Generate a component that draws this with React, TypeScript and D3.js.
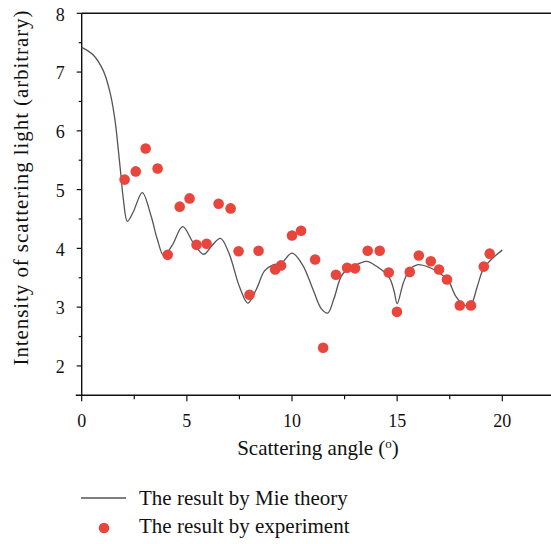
import React from "react";
import * as d3 from "d3";

const W = 551;
const H = 544;

const xTicks = [0, 5, 10, 15, 20];
const xMinorTicks = [2.5, 7.5, 12.5, 17.5];
const yTicks = [2, 3, 4, 5, 6, 7, 8];
const yMinorTicks = [2.5, 3.5, 4.5, 5.5, 6.5, 7.5];

// Experiment points
const expX = [2.04, 2.57, 3.04, 3.61, 4.09, 4.66, 5.13, 5.46, 5.94, 6.51, 7.08, 7.46, 7.98, 8.41, 9.2, 9.48, 10.0, 10.43, 11.1, 11.48, 12.09, 12.62, 13.0, 13.6, 14.17, 14.6, 14.99, 15.6, 16.03, 16.6, 16.99, 17.37, 17.98, 18.51, 19.12, 19.4];
const expY = [5.17, 5.31, 5.70, 5.36, 3.89, 4.71, 4.85, 4.06, 4.08, 4.76, 4.68, 3.95, 3.21, 3.96, 3.64, 3.71, 4.22, 4.30, 3.81, 2.31, 3.55, 3.67, 3.66, 3.96, 3.96, 3.59, 2.92, 3.60, 3.88, 3.78, 3.64, 3.47, 3.03, 3.03, 3.69, 3.91];

// Mie theory curve
const mieX = [0, 0.55, 1.03, 1.35, 1.58, 1.74, 1.87, 1.98, 2.17, 2.45, 2.88, 3.3, 3.6, 3.9, 4.3, 4.8, 5.3, 5.8, 6.2, 6.6, 7.0, 7.5, 7.9, 8.3, 8.7, 9.1, 9.5, 10.0, 10.5, 11.0, 11.4, 11.7, 12.0, 12.4, 13.0, 13.55, 14.0, 14.6, 14.85, 15.0, 15.3, 15.6, 15.95, 16.5, 17.0, 17.4, 17.8, 18.2, 18.5, 18.8, 19.1, 19.5, 20.0];
const mieY = [7.42, 7.29, 7.02, 6.65, 6.19, 5.68, 5.23, 4.84, 4.46, 4.62, 4.95, 4.55, 4.15, 3.88, 4.05, 4.37, 4.1, 3.9, 4.05, 4.17, 3.92, 3.35, 3.07, 3.3, 3.62, 3.72, 3.75, 3.92, 3.72, 3.3, 2.97, 2.9, 3.15, 3.56, 3.71, 3.78, 3.7, 3.52, 3.28, 3.06, 3.42, 3.64, 3.72, 3.68, 3.58, 3.47, 3.18, 3.03, 3.04, 3.34, 3.65, 3.82, 3.97];

const FONT = "'Liberation Serif', 'Times New Roman', serif";

export default function App() {
  const x0 = 81.7;
  const ppu = 21.03;
  const x = d3.scaleLinear().domain([0, 22.5]).range([x0, x0 + 22.5 * ppu]);
  const y = d3.scaleLinear().domain([1.5, 8]).range([395.3, 13.3]);

  const line = d3
    .line<number>()
    .x((_, i) => x(mieX[i]))
    .y((_, i) => y(mieY[i]))
    .curve(d3.curveCatmullRom.alpha(0.5));

  const pathD = line(mieX) || "";
  const red = "#e8453c";
  const axisColor = "#111";

  return (
    <svg
      width={W}
      height={H}
      style={{ position: "absolute", left: 0, top: 0, background: "#fff" }}
      fontFamily={FONT}
    >
      {/* frame: top and left, bottom */}
      <line x1={x(0)} x2={W} y1={y(8)} y2={y(8)} stroke={axisColor} strokeWidth={1.4} />
      <line x1={x(0)} x2={x(0)} y1={y(8)} y2={y(1.5)} stroke={axisColor} strokeWidth={1.4} />
      <line x1={x(0) - 6} x2={W} y1={y(1.5)} y2={y(1.5)} stroke={axisColor} strokeWidth={1.4} />

      {/* y ticks */}
      {yTicks.map((t) => (
        <g key={"yt" + t}>
          <line x1={x(0) - 5} x2={x(0)} y1={y(t)} y2={y(t)} stroke={axisColor} strokeWidth={1.2} />
          <text x={x(0) - 17} y={y(t) + 7.2} textAnchor="end" fontSize={18} fill="#111">
            {t}
          </text>
        </g>
      ))}
      {yMinorTicks.map((t) => (
        <line key={"ym" + t} x1={x(0) - 3} x2={x(0)} y1={y(t)} y2={y(t)} stroke={axisColor} strokeWidth={1.2} />
      ))}

      {/* x ticks */}
      {xTicks.map((t) => (
        <g key={"xt" + t}>
          <line x1={x(t)} x2={x(t)} y1={y(1.5)} y2={y(1.5) + 6} stroke={axisColor} strokeWidth={1.2} />
          <text x={x(t)} y={y(1.5) + 31.5} textAnchor="middle" fontSize={18} fill="#111">
            {t}
          </text>
        </g>
      ))}
      {xMinorTicks.map((t) => (
        <line key={"xm" + t} x1={x(t)} x2={x(t)} y1={y(1.5)} y2={y(1.5) + 4} stroke={axisColor} strokeWidth={1.2} />
      ))}

      {/* Mie curve */}
      <path d={pathD} fill="none" stroke="#555" strokeWidth={1.3} />

      {/* experiment dots */}
      {expX.map((v, i) => (
        <circle key={"p" + i} cx={x(v)} cy={y(expY[i])} r={5.3} fill={red} />
      ))}

      {/* axis titles */}
      <text x={318} y={455} textAnchor="middle" fontSize={21} fill="#111">
        Scattering angle (<tspan fontSize={13} dy={-7}>o</tspan>
        <tspan dy={7}>)</tspan>
      </text>
      <text
        transform={`translate(27.5, 188) rotate(-90)`}
        textAnchor="middle"
        fontSize={21}
        fill="#111"
        textLength={355}
        lengthAdjust="spacing"
      >
        Intensity of scattering light (arbitrary)
      </text>

      {/* legend */}
      <line x1={81} x2={126} y1={498} y2={498} stroke="#555" strokeWidth={1.3} />
      <text x={139} y={505} fontSize={21} fill="#111">
        The result by Mie theory
      </text>
      <circle cx={104} cy={528} r={5.3} fill={red} />
      <text x={139} y={533} fontSize={21} fill="#111">
        The result by experiment
      </text>
    </svg>
  );
}
